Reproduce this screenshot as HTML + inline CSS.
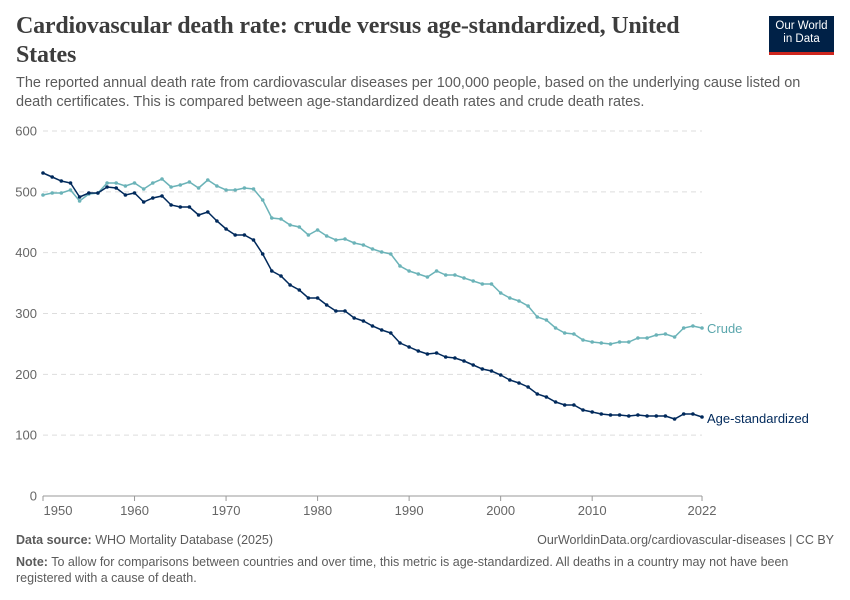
<!DOCTYPE html>
<html><head><meta charset="utf-8"><style>
body{margin:0;background:#fff;width:850px;height:600px;overflow:hidden;font-family:"Liberation Sans",sans-serif}
.t{position:absolute;left:16px;top:12px;width:720px;font-family:"Liberation Serif",serif;font-size:24px;line-height:29px;color:#3d3d3d;font-weight:bold;letter-spacing:-0.2px}
.s{position:absolute;left:16px;top:74px;width:820px;font-size:14.5px;line-height:19px;color:#5b5b5b}
.logo{position:absolute;left:769px;top:16px;width:65px;height:36px;background:#002147;border-bottom:3px solid #ce261e;color:#fff;font-size:11.5px;line-height:13px;text-align:center;padding-top:4px;box-sizing:content-box;height:32px}
.f{position:absolute;font-size:12.5px;color:#5b5b5b}
</style></head><body>
<div class="t">Cardiovascular death rate: crude versus age-standardized, United States</div>
<div class="s">The reported annual death rate from cardiovascular diseases per 100,000 people, based on the underlying cause listed on death certificates. This is compared between age-standardized death rates and crude death rates.</div>
<div class="logo">Our World<br>in Data</div>
<svg id="c" width="850" height="600" style="position:absolute;left:0;top:0" font-family="Liberation Sans, sans-serif"></svg>
<div class="f" style="left:16px;top:533px"><b>Data source:</b> WHO Mortality Database (2025)</div>
<div class="f" style="right:16px;top:533px">OurWorldinData.org/cardiovascular-diseases | CC BY</div>
<div class="f" style="left:16px;top:554px;width:820px;line-height:16px"><b>Note:</b> To allow for comparisons between countries and over time, this metric is age-standardized. All deaths in a country may not have been registered with a cause of death.</div>
<script>
var A=[173,177,181,183,197,193,193,187,188,195,193,202,198,196,205,207,207,215,212,221,229,235,235,240,254,271,276,285,290,298,298,305,311,311,318,321,326,330,333,343,347,351,354,353,357,358,361,365,369,371,375,380,383,387,394,397,402,405,405,410,412,414,415,415,416,415,416,416,416,419,414,414,417];
var C=[195,193,193,190,201,194,193,183,183,186,183,189,183,179,187,185,182,188,180,186,190,190,188,189,200,218,219,225,227,235,230,236,240,239,243,245,249,252,254,266,271,274,277,271,275,275,278,281,284,284,293,298,301,306,317,320,328,333,334,340,342,343,344,342,342,338,338,335,334,337,328,326,328];
var s='';
[0,100,200,300,400,500,600].forEach(function(v){var y=496-v*0.6083;
 if(v>0)s+='<line x1="43" x2="702" y1="'+y+'" y2="'+y+'" stroke="#ddd" stroke-dasharray="5,4"/>';
 s+='<text x="37" y="'+(y+4.5)+'" text-anchor="end" font-size="13" fill="#666">'+v+'</text>';});
s+='<line x1="43" x2="702" y1="496" y2="496" stroke="#999"/>';
[[1950,58],[1960,0],[1970,0],[1980,0],[1990,0],[2000,0],[2010,0],[2022,0]].forEach(function(t){var x=43+9.153*(t[0]-1950);
 s+='<line x1="'+x+'" x2="'+x+'" y1="496" y2="501" stroke="#999"/>';
 s+='<text x="'+(t[1]||x)+'" y="515" text-anchor="middle" font-size="13" fill="#666">'+t[0]+'</text>';});
function ser(d,col){var p='',c='';d.forEach(function(y,i){var x=43+9.153*i;p+=(i?'L':'M')+x.toFixed(1)+','+y;c+='<circle cx="'+x.toFixed(1)+'" cy="'+y+'" r="1.8" fill="'+col+'"/>';});
 return '<path d="'+p+'" fill="none" stroke="'+col+'" stroke-width="1.5"/>'+c;}
s+=ser(C,'#6bb3b8')+ser(A,'#00295b');
s+='<text x="707" y="333" font-size="13" fill="#5aa6ac">Crude</text>';
s+='<text x="707" y="423" font-size="13" fill="#00295b">Age-standardized</text>';
document.getElementById('c').innerHTML=s;
</script>
</body></html>
